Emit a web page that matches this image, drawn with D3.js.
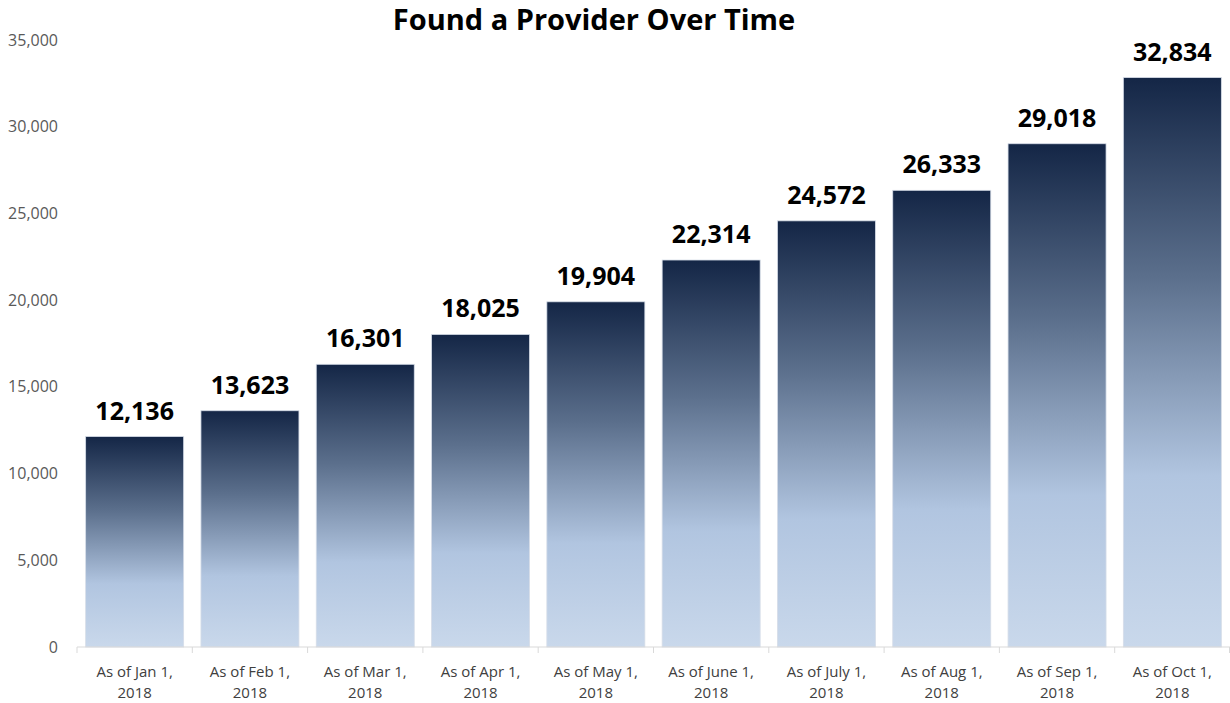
<!DOCTYPE html>
<html><head><meta charset="utf-8">
<script src="https://cdn.jsdelivr.net/npm/d3@7"></script>
<style>body{margin:0;background:#fff;} svg{display:block;}</style>
</head><body>
<svg id="c" width="1230" height="703"></svg>
<script>
const categories = ["As of Jan 1, 2018","As of Feb 1, 2018","As of Mar 1, 2018","As of Apr 1, 2018","As of May 1, 2018","As of June 1, 2018","As of July 1, 2018","As of Aug 1, 2018","As of Sep 1, 2018","As of Oct 1, 2018"];
const values = [12136,13623,16301,18025,19904,22314,24572,26333,29018,32834];
const yTicks = [0,5000,10000,15000,20000,25000,30000,35000];
const title = "Found a Provider Over Time";

const svg = d3.select("#c");
const W = 1230, H = 703;
const m = {left:77, right:0, top:40, bottom:56};
const x = d3.scaleBand().domain(categories).range([m.left, W-m.right]).paddingInner(0.15).paddingOuter(0.075);
const y = d3.scaleLinear().domain([0,35000]).range([H-m.bottom, m.top]);
const font = "'Open Sans', sans-serif";

const defs = svg.append("defs");
const g = defs.append("linearGradient").attr("id","bg").attr("x1",0).attr("y1",0).attr("x2",0).attr("y2",1);
g.append("stop").attr("offset","0%").attr("stop-color","#142646");
g.append("stop").attr("offset","35%").attr("stop-color","#5b6f8c");
g.append("stop").attr("offset","70%").attr("stop-color","#b1c5e0");
g.append("stop").attr("offset","100%").attr("stop-color","#c9d8eb");

svg.append("text").attr("x",594).attr("y",30).attr("text-anchor","middle")
  .attr("font-family",font).attr("font-weight","bold").attr("font-size",29).attr("fill","#000").text(title);

// y axis labels
const ya = svg.append("g").attr("transform",`translate(${m.left-19},0)`)
  .call(d3.axisLeft(y).tickValues(yTicks).tickSize(0).tickPadding(0).tickFormat(d3.format(",")));
ya.select(".domain").remove();
ya.selectAll("text").attr("font-family",font).attr("font-size",16).attr("fill","#595959");

// bars
svg.selectAll("rect.bar").data(values).enter().append("rect").attr("class","bar")
  .attr("x",(d,i)=>x(categories[i])).attr("width",x.bandwidth())
  .attr("y",d=>y(d)).attr("height",d=>y(0)-y(d))
  .attr("fill","url(#bg)").attr("stroke","#d6dde8").attr("stroke-width",0.8);

// value labels
svg.selectAll("text.val").data(values).enter().append("text").attr("class","val")
  .attr("x",(d,i)=>x(categories[i])+x.bandwidth()/2).attr("y",d=>y(d)-17)
  .attr("text-anchor","middle").attr("font-family",font).attr("font-weight","bold")
  .attr("font-size",25).attr("fill","#000").text(d=>d3.format(",")(d));

// x axis
const step = x.step();
const xa = svg.append("g").attr("transform",`translate(0,${y(0)})`);
xa.append("line").attr("x1",m.left).attr("x2",W).attr("stroke","#d9d9d9").attr("stroke-width",1);
const bounds = categories.map((c,i)=>m.left + i*step).concat([W-0.5]);
xa.selectAll("line.tk").data(bounds).enter().append("line").attr("class","tk")
  .attr("x1",d=>d).attr("x2",d=>d).attr("y1",0).attr("y2",6).attr("stroke","#d9d9d9");
categories.forEach((c,i)=>{
  const parts = c.split(", ");
  const t = xa.append("text").attr("x",x(c)+x.bandwidth()/2).attr("text-anchor","middle")
    .attr("font-family",font).attr("font-size",15).attr("fill","#404040");
  t.append("tspan").attr("x",x(c)+x.bandwidth()/2).attr("y",30).text(parts[0]+",");
  t.append("tspan").attr("x",x(c)+x.bandwidth()/2).attr("y",51).text(parts[1]);
});
</script>
</body></html>
